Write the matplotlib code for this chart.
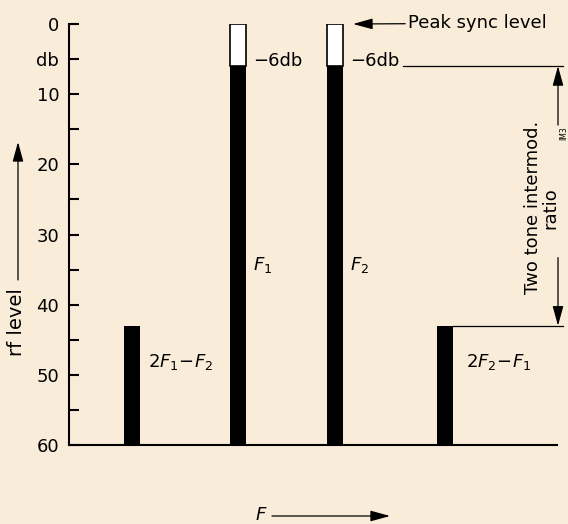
import matplotlib
matplotlib.use("Agg")
import matplotlib.pyplot as plt

# ---- data ----
products = [r"$2F_1\!-\!F_2$", r"$F_1$", r"$F_2$", r"$2F_2\!-\!F_1$"]
freq = [1.29, 3.46, 5.45, 7.70]          # arbitrary frequency axis
level_db = [43, 6, 6, 43]                 # dB below peak sync level
peak_db = 0                               # peak sync level
floor_db = 60
ytick_vals = list(range(0, 61, 5))
ytick_labels = ["0", "db", "10", "", "20", "", "30", "", "40", "", "50", "", "60"]

BG = "#f9ecd9"
plt.rcParams["mathtext.fontset"] = "dejavusans"
plt.rcParams["font.family"] = ["DejaVu Sans"]

W, H = 568, 524
fig = plt.figure(figsize=(W / 100, H / 100), dpi=100, facecolor=BG)
x0px, x1px, ytop, ybot = 69, 557, 24, 445
ax = fig.add_axes([x0px / W, (H - ybot) / H, (W - x0px) / W, (ybot - ytop) / H])
ax.set_facecolor(BG)
pxu = (x1px - x0px) / 10.0
ax.set_xlim(0, (W - x0px) / pxu)
ax.set_ylim(floor_db, 0)

for s in ["top", "right"]:
    ax.spines[s].set_visible(False)
ax.spines["left"].set_linewidth(1.5)
ax.spines["bottom"].set_linewidth(1.5)
ax.spines["bottom"].set_bounds(0, 10)
ax.set_xticks([])
ax.set_yticks(ytick_vals)
ax.set_yticklabels(ytick_labels)
ax.tick_params(axis="y", direction="in", length=7.5, width=1.5, pad=7, labelsize=13)

bw = 16 / pxu
# black bars
ax.bar(freq, [lv - floor_db for lv in level_db], bottom=floor_db, width=bw,
       color="black", zorder=3)
# white caps from peak to -6 db on F1, F2
ax.bar(freq[1:3], [level_db[1] - peak_db, level_db[2] - peak_db], bottom=peak_db,
       width=bw, facecolor="white", edgecolor="black", linewidth=1.2, zorder=3)

# product labels
offs = [8, 7, 7, 13]
lab_y = [48.1, 34.3, 34.3, 48.1]
for f, t, o, ly in zip(freq, products, offs, lab_y):
    ax.annotate(t, xy=(f + bw / 2, ly), xytext=(o * 0.72, 0), textcoords="offset points",
                ha="left", va="center", fontsize=13)

# -6 db labels
for f, lv in zip(freq[1:3], level_db[1:3]):
    ax.annotate("\u22126db", xy=(f + bw / 2, lv), xytext=(5, 4), textcoords="offset points",
                ha="left", va="center", fontsize=13)

# reference lines for intermod ratio
xr = 10.12
ax.plot([(403 - x0px) / pxu, xr], [level_db[2]] * 2, color="black", lw=0.9)
ax.plot([freq[3] + bw / 2, xr], [level_db[3]] * 2, color="black", lw=0.9)
xd = (558 - x0px) / pxu
ap = dict(arrowstyle="-|>,head_length=0.8,head_width=0.22", color="black", lw=0.9,
          mutation_scale=15, shrinkA=0, shrinkB=0)
ax.annotate("", xy=(xd, level_db[2]), xytext=(xd, 14.4), arrowprops=ap)
ax.annotate("", xy=(xd, level_db[3]), xytext=(xd, 33.3), arrowprops=ap)
ax.text((542 - x0px) / pxu, 26.2, "Two tone intermod.\nratio", rotation=90,
        ha="center", va="center", fontsize=13, multialignment="center",
        linespacing=0.95)
ax.text((564 - x0px) / pxu, 15.6, "IM3", rotation=90, ha="center", va="center",
        fontsize=5.5)

# Peak sync level
ax.annotate("Peak sync level", xy=((353 - x0px) / pxu, peak_db),
            xytext=((408 - x0px) / pxu, peak_db - 0.1), ha="left", va="center",
            fontsize=13, arrowprops=ap)

# rf level label with arrow
fig.text(16 / W, (H - 322) / H, "rf level", rotation=90, ha="center", va="center",
         fontsize=14)
fig.add_artist(matplotlib.patches.FancyArrowPatch(
    (18 / W, (H - 280) / H), (18 / W, (H - 142) / H), transform=fig.transFigure,
    **ap))

# F arrow at bottom
fig.text(261 / W, (H - 515) / H, r"$F$", ha="center", va="center", fontsize=13)
fig.add_artist(matplotlib.patches.FancyArrowPatch(
    (272 / W, (H - 516) / H), (390 / W, (H - 516) / H), transform=fig.transFigure,
    **ap))

fig.savefig("out.png", dpi=100, facecolor=BG)
